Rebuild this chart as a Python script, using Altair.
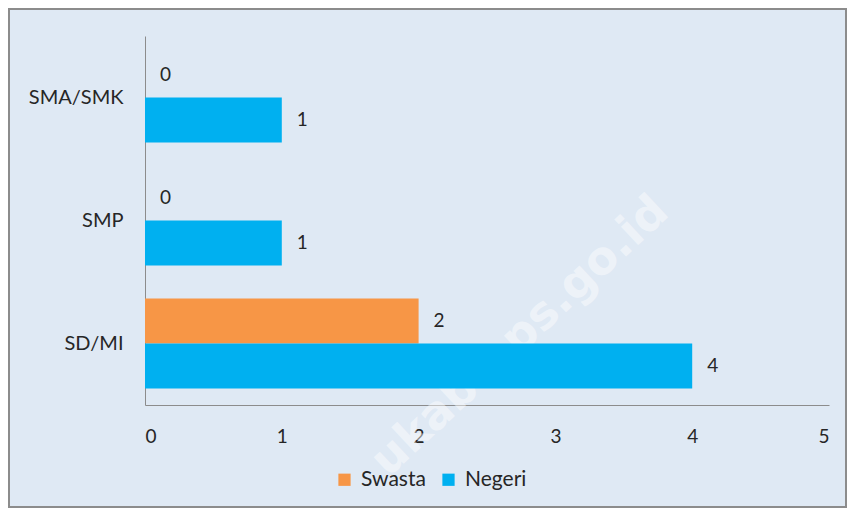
import altair as alt
import pandas as pd

categories = ["SMA/SMK", "SMP", "SD/MI"]
series = ["Swasta", "Negeri"]
swasta = [0, 0, 2]
negeri = [1, 1, 4]
colors = ["#F79646", "#00B0F0"]
x_ticks = [0, 1, 2, 3, 4, 5]
watermark = "ukab.bps.go.id"

rows = []
for c, s, n in zip(categories, swasta, negeri):
    rows.append({"cat": c, "series": "Swasta", "value": s})
    rows.append({"cat": c, "series": "Negeri", "value": n})
df = pd.DataFrame(rows)

FONT = "Lato"
W, H = 684, 369

y_enc = alt.Y("cat:N", sort=categories, title=None,
              scale=alt.Scale(paddingInner=0.268, paddingOuter=0.134),
              axis=alt.Axis(domainColor="#8c8c8c", ticks=False, labelPadding=22,
                            labelFontSize=20, labelFont=FONT, labelColor="#262626"))
yoff = alt.YOffset("series:N", sort=series, scale=alt.Scale(paddingInner=0, paddingOuter=0))
x_enc = alt.X("value:Q", title=None,
              scale=alt.Scale(domain=[0, 5], nice=False),
              axis=alt.Axis(values=x_ticks, grid=False, ticks=False, domainColor="#8c8c8c",
                            labelPadding=22, labelFontSize=19, labelFont=FONT,
                            labelColor="#262626", format="d"))

bars = alt.Chart(df).mark_bar().encode(
    y=y_enc, yOffset=yoff, x=x_enc,
    color=alt.Color("series:N", sort=series,
                    scale=alt.Scale(domain=series, range=colors),
                    legend=alt.Legend(title=None, orient="none", direction="horizontal",
                                      legendX=189, legendY=433, symbolType="square",
                                      symbolSize=150, symbolStrokeWidth=0, labelFontSize=21,
                                      labelFont=FONT, labelColor="#262626", columnPadding=12,
                                      labelOffset=6)),
)

labels = alt.Chart(df).mark_text(align="left", baseline="middle", dx=15, fontSize=19,
                                 font=FONT, color="#262626").encode(
    y=alt.Y("cat:N", sort=categories), yOffset=alt.YOffset("series:N", sort=series),
    x="value:Q", text="value:Q",
)

wm = alt.Chart(pd.DataFrame({"t": [watermark]})).mark_text(
    angle=317, fontSize=46, font="DejaVu Sans", fontWeight="bold", color="#ffffff",
    opacity=0.45, align="center", baseline="middle").encode(
    x=alt.value(375), y=alt.value(300), text="t:N")

frame = alt.Chart(pd.DataFrame({"a": [0]})).mark_rect(
    fill=None, stroke="#8c8c8c", strokeWidth=2).encode(
    x=alt.value(-136), x2=alt.value(W + 17), y=alt.value(-27), y2=alt.value(H + 102))

chart = alt.layer(wm, bars, labels, frame).properties(
    width=W, height=H, background="#dfe9f4",
    autosize=alt.AutoSizeParams(type="none"),
    padding={"left": 137, "top": 28, "right": 18, "bottom": 103},
).configure_view(stroke=None)

chart.save("out.html", embed_options={"renderer": "svg", "actions": False})
